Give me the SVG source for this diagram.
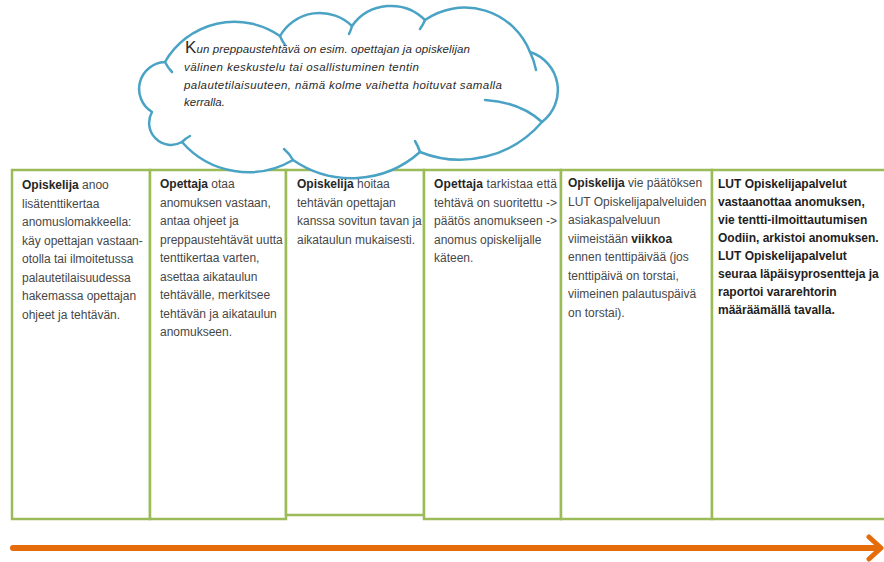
<svg xmlns="http://www.w3.org/2000/svg" width="884" height="562" viewBox="0 0 884 562">
<style>
.box{fill:#fff;stroke:#9bbb59;stroke-width:2.5}
.t{font-family:"Liberation Sans",Arial,sans-serif;font-size:12px;fill:#474747}
.b{font-weight:bold;fill:#262626}
.tb{font-family:"Liberation Sans",Arial,sans-serif;font-size:12px;font-weight:bold;fill:#1e1e1e}
.cl{fill:#fff;stroke:#4aa3c4;stroke-width:2.5;stroke-linejoin:round}
.hook{fill:none;stroke:#4aa3c4;stroke-width:2.5;stroke-linecap:round}
.ct{font-family:"Liberation Sans",Arial,sans-serif;font-size:11.5px;font-style:italic;fill:#2a2a2a}
</style>
<rect width="884" height="562" fill="#fff"/>
<g id="col1">
<rect class="box" x="12" y="170" width="138" height="349"/>
<text class="t" x="22" y="189"><tspan class="b">Opiskelija</tspan> anoo</text>
<text class="t" x="22" y="207.5">lisätenttikertaa</text>
<text class="t" x="22" y="226">anomuslomakkeella:</text>
<text class="t" x="22" y="244.5">käy opettajan vastaan-</text>
<text class="t" x="22" y="263">otolla tai ilmoitetussa</text>
<text class="t" x="22" y="281.5">palautetilaisuudessa</text>
<text class="t" x="22" y="300">hakemassa opettajan</text>
<text class="t" x="22" y="318.5">ohjeet ja tehtävän.</text>
</g>
<g id="col2">
<rect class="box" x="150" y="170" width="136" height="349"/>
<text class="t" x="160" y="188"><tspan class="b">Opettaja</tspan> otaa</text>
<text class="t" x="160" y="206.5">anomuksen vastaan,</text>
<text class="t" x="160" y="225">antaa ohjeet ja</text>
<text class="t" x="160" y="243.5">preppaustehtävät uutta</text>
<text class="t" x="160" y="262">tenttikertaa varten,</text>
<text class="t" x="160" y="280.5">asettaa aikataulun</text>
<text class="t" x="160" y="299">tehtävälle, merkitsee</text>
<text class="t" x="160" y="317.5">tehtävän ja aikataulun</text>
<text class="t" x="160" y="336">anomukseen.</text>
</g>
<g id="col3">
<rect class="box" x="286" y="170" width="138" height="345"/>
<text class="t" x="297" y="188"><tspan class="b">Opiskelija</tspan> hoitaa</text>
<text class="t" x="297" y="206.5">tehtävän opettajan</text>
<text class="t" x="297" y="225">kanssa sovitun tavan ja</text>
<text class="t" x="297" y="243.5">aikataulun mukaisesti.</text>
</g>
<g id="col4">
<rect class="box" x="424" y="170" width="137" height="349"/>
<text class="t" x="434" y="188" textLength="123" lengthAdjust="spacing"><tspan class="b">Opettaja</tspan> tarkistaa että</text>
<text class="t" x="434" y="206.5" textLength="123" lengthAdjust="spacing">tehtävä on suoritettu -&gt;</text>
<text class="t" x="434" y="225" textLength="123" lengthAdjust="spacing">päätös anomukseen -&gt;</text>
<text class="t" x="434" y="243.5">anomus opiskelijalle</text>
<text class="t" x="434" y="262">käteen.</text>
</g>
<g id="col5">
<rect class="box" x="561" y="170" width="151" height="349"/>
<text class="t" x="568" y="187"><tspan class="b">Opiskelija</tspan> vie päätöksen</text>
<text class="t" x="568" y="205.5">LUT Opiskelijapalveluiden</text>
<text class="t" x="568" y="224">asiakaspalveluun</text>
<text class="t" x="568" y="242.5">viimeistään <tspan class="b">viikkoa</tspan></text>
<text class="t" x="568" y="261">ennen tenttipäivää (jos</text>
<text class="t" x="568" y="279.5">tenttipäivä on torstai,</text>
<text class="t" x="568" y="298">viimeinen palautuspäivä</text>
<text class="t" x="568" y="316.5">on torstai).</text>
</g>
<g id="col6">
<rect class="box" x="712" y="170" width="190" height="349"/>
<text class="tb" x="718" y="188">LUT Opiskelijapalvelut</text>
<text class="tb" x="718" y="206">vastaanottaa anomuksen,</text>
<text class="tb" x="718" y="224">vie tentti-ilmoittautumisen</text>
<text class="tb" x="718" y="242">Oodiin, arkistoi anomuksen.</text>
<text class="tb" x="718" y="260">LUT Opiskelijapalvelut</text>
<text class="tb" x="718" y="278">seuraa läpäisyprosentteja ja</text>
<text class="tb" x="718" y="296">raportoi vararehtorin</text>
<text class="tb" x="718" y="314">määräämällä tavalla.</text>
</g>
<g id="cloud">
<path class="cl" d="M152,112 A27,27 0 0 1 165,62 A80,80 0 0 1 280,36 A46,46 0 0 1 352,26 A48,48 0 0 1 425,20 A70,70 0 0 1 530,52 A40,40 0 0 1 542,122 A108,108 0 0 1 420,152 A103,103 0 0 1 293,160 A88,88 0 0 1 182,142 A22,22 0 0 1 152,112 Z"/>
<path class="hook" d="M165,62 Q168,68 172,72"/>
<path class="hook" d="M280,36 Q282,41 285,45"/>
<path class="hook" d="M352,26 Q351,30 349,34"/>
<path class="hook" d="M425,20 Q423,25 420,29"/>
<path class="hook" d="M530,52 Q534,60 536,70"/>
<path class="hook" d="M542,122 Q520,102 485,100"/>
<path class="hook" d="M420,152 Q418,146 415,141"/>
<path class="hook" d="M293,160 Q290,154 284,149"/>
<path class="hook" d="M182,142 Q186,138 190,136"/>
<text class="ct" x="185" y="53" textLength="285" lengthAdjust="spacing"><tspan style="font-size:17px;font-style:normal">K</tspan>un preppaustehtävä on esim. opettajan ja opiskelijan</text>
<text class="ct" x="184" y="71" textLength="235" lengthAdjust="spacing">välinen keskustelu  tai osallistuminen  tentin</text>
<text class="ct" x="184" y="88.5" textLength="318" lengthAdjust="spacing">palautetilaisuuteen,  nämä kolme vaihetta hoituvat samalla</text>
<text class="ct" x="184" y="106">kerralla.</text>
</g>
<g id="connectors">
<line x1="13" y1="548" x2="878" y2="548" stroke="#e46c0a" stroke-width="6" stroke-linecap="round"/>
<polyline points="869,537 881,548 869,559" fill="none" stroke="#e46c0a" stroke-width="5" stroke-linecap="round" stroke-linejoin="round"/>
</g>
</svg>
